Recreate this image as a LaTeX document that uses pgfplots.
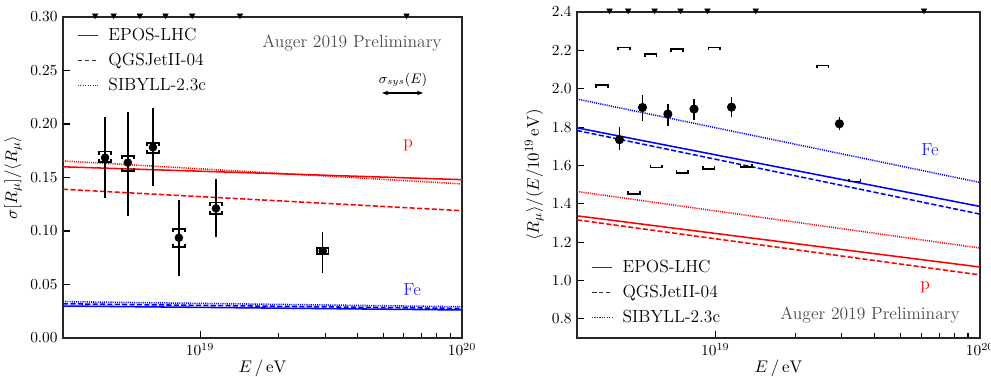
\documentclass[border=0pt]{standalone}
\usepackage{pgfplots}
\pgfplotsset{compat=1.18}
\usepackage{pgfplotstable}
\usetikzlibrary{arrows.meta}

\pgfdeclareplotmark{sysup}{%
  \pgfpathmoveto{\pgfpoint{-\pgfplotmarksize}{-0.5\pgfplotmarksize}}%
  \pgfpathlineto{\pgfpoint{-\pgfplotmarksize}{0pt}}%
  \pgfpathlineto{\pgfpoint{\pgfplotmarksize}{0pt}}%
  \pgfpathlineto{\pgfpoint{\pgfplotmarksize}{-0.5\pgfplotmarksize}}%
  \pgfusepathqstroke}
\pgfdeclareplotmark{sysdown}{%
  \pgfpathmoveto{\pgfpoint{-\pgfplotmarksize}{0.5\pgfplotmarksize}}%
  \pgfpathlineto{\pgfpoint{-\pgfplotmarksize}{0pt}}%
  \pgfpathlineto{\pgfpoint{\pgfplotmarksize}{0pt}}%
  \pgfpathlineto{\pgfpoint{\pgfplotmarksize}{0.5\pgfplotmarksize}}%
  \pgfusepathqstroke}

\newcommand{\lbl}{\fontsize{11.4}{13.5}\selectfont}

% left panel: relative fluctuations
\pgfplotstableread{
x       y      ep     em     slo    shi
4.34e18 0.1685 0.0378 0.0379 0.1642 0.1742
5.30e18 0.1639 0.0477 0.0499 0.1560 0.1701
6.61e18 0.1782 0.0365 0.0362 0.1726 0.1825
8.30e18 0.0937 0.0353 0.0357 0.0848 0.1016
1.15e19 0.1212 0.0274 0.0265 0.1159 0.1265
2.94e19 0.0813 0.0180 0.0209 0.0785 0.0838
}\sigdata

% right panel: mean muon number
\pgfplotstableread{
x       y     ep    em
4.34e18 1.734 0.064 0.052
5.30e18 1.902 0.067 0.068
6.61e18 1.868 0.054 0.061
8.30e18 1.894 0.054 0.056
1.15e19 1.904 0.053 0.049
2.94e19 1.817 0.035 0.031
}\meandata
\pgfplotstableread{
x       y
3.73e18 2.021
4.52e18 2.215
5.69e18 2.181
7.16e18 2.207
9.91e18 2.215
2.54e19 2.121
}\meansysup
\pgfplotstableread{
x       y
4.92e18 1.452
5.98e18 1.589
7.50e18 1.560
9.42e18 1.581
1.31e19 1.591
3.36e19 1.516
}\meansysdown

\pgfplotsset{
  legend image code/.code={\draw[#1] (0cm,0cm) -- (0.46cm,0cm);},
  pl/.style={line width=1pt, forget plot},
  dsh/.style={dash pattern=on 3.3pt off 1.5pt},
  dtt/.style={dash pattern=on 0.7pt off 0.7pt},
}

\begin{document}
\begin{tikzpicture}
\useasboundingbox (0,0) rectangle (644.15pt,244.4pt);

% ---------------- left panel ----------------
\begin{axis}[
  xmode=log, xmin=3e18, xmax=1e20,
  scale only axis,
  axis line style={line width=0.8pt, black!85},
  tick pos=left,
  tick align=inside,
  major tick length=4.5pt, minor tick length=3pt,
  every tick/.style={black, line width=0.7pt},
  xtick={1e19,1e20},
  xlabel={$E\,/\,\mathrm{eV}$},
  every axis x label/.style={at={(axis description cs:0.5,-0.095)}, anchor=center, font=\lbl},
  legend cell align=left,
  legend style={draw=none, fill=none, inner sep=0pt, row sep=2.6pt, font=\lbl,
    /tikz/every odd column/.append style={column sep=0.16cm}},
  at={(40.95pt,24.7pt)}, anchor=south west,
  width=259.35pt, height=208.65pt,
  ymin=0, ymax=0.30,
  ytick={0,0.05,...,0.30},
  yticklabel style={/pgf/number format/.cd, fixed, fixed zerofill, precision=2},
  ylabel={$\sigma[R_\mu]/\langle R_\mu\rangle$},
  every axis y label/.style={at={(axis description cs:-0.125,0.5)}, rotate=90, anchor=center, font=\lbl},
  legend style={at={(axis description cs:0.035,0.975)}, anchor=north west},
]
\addlegendimage{black!80, line width=0.6pt}
\addlegendentry{EPOS-LHC}
\addlegendimage{black!80, line width=0.6pt, dash pattern=on 3pt off 1.5pt}
\addlegendentry{QGSJetII-04}
\addlegendimage{black!80, line width=0.6pt, dash pattern=on 0.8pt off 0.8pt}
\addlegendentry{SIBYLL-2.3c}

% proton
\addplot[pl, red] coordinates {(3e18,0.160) (1e20,0.148)};
\addplot[pl, red, dsh] coordinates {(3e18,0.139) (1e20,0.119)};
\addplot[pl, red, dtt] coordinates {(3e18,0.1655) (1e20,0.144)};
% iron
\addplot[pl, blue] coordinates {(3e18,0.0299) (1e20,0.0262)};
\addplot[pl, blue, dsh] coordinates {(3e18,0.0320) (1e20,0.0276)};
\addplot[pl, blue, dtt] coordinates {(3e18,0.0340) (1e20,0.0292)};

% data
\addplot[forget plot, black, only marks, mark=*, mark size=2.3pt, line width=0.9pt,
  error bars/.cd, y dir=both, y explicit, error mark=none,
  error bar style={line width=0.9pt}]
  table[x=x, y=y, y error plus=ep, y error minus=em] {\sigdata};
\addplot[forget plot, black, only marks, mark=sysup, mark size=3.8pt, line width=1.1pt]
  table[x=x, y=shi] {\sigdata};
\addplot[forget plot, black, only marks, mark=sysdown, mark size=3.8pt, line width=1.1pt]
  table[x=x, y=slo] {\sigdata};

% triangles on top
\addplot[forget plot, black, only marks, mark=triangle*, mark size=2pt,
  mark options={rotate=180, yshift=-1pt}]
  coordinates {(3.98e18,0.30) (4.68e18,0.30) (5.89e18,0.30) (7.38e18,0.30) (9.33e18,0.30) (1.42e19,0.30) (6.14e19,0.30)};

\draw[black, line width=0.8pt, {Stealth[length=4pt]}-{Stealth[length=4pt]}] (axis cs:4.95e19,0.229) -- (axis cs:7.1e19,0.229);
\node[font=\small] at (axis description cs:0.852,0.804) {$\sigma_{sys}(E)$};
\node[text=black!70, font=\lbl] at (axis description cs:0.724,0.919) {Auger 2019 Preliminary};
\node[text=red, font=\lbl] at (axis description cs:0.865,0.601) {p};
\node[text=blue!85!white, font=\lbl] at (axis description cs:0.875,0.150) {Fe};
\end{axis}

% ---------------- right panel ----------------
\begin{axis}[
  xmode=log, xmin=3e18, xmax=1e20,
  scale only axis,
  axis line style={line width=0.8pt, black!85},
  tick pos=left,
  tick align=inside,
  major tick length=4.5pt, minor tick length=3pt,
  every tick/.style={black, line width=0.7pt},
  xtick={1e19,1e20},
  xlabel={$E\,/\,\mathrm{eV}$},
  every axis x label/.style={at={(axis description cs:0.5,-0.092)}, anchor=center, font=\lbl},
  legend cell align=left,
  legend style={draw=none, fill=none, inner sep=0pt, row sep=2.6pt, font=\lbl,
    /tikz/every odd column/.append style={column sep=0.16cm}},
  at={(375.05pt,24.7pt)}, anchor=south west,
  width=261.95pt, height=211.9pt,
  ymin=0.7, ymax=2.4,
  ytick={0.8,1.0,...,2.41},
  yticklabel style={/pgf/number format/.cd, fixed, fixed zerofill, precision=1},
  ylabel={$\langle R_\mu\rangle/(E/10^{19}\,\mathrm{eV})$},
  every axis y label/.style={at={(axis description cs:-0.106,0.5)}, rotate=90, anchor=center, font=\lbl},
  legend style={at={(axis description cs:0.035,0.03)}, anchor=south west},
]
\addlegendimage{black!80, line width=0.6pt}
\addlegendentry{EPOS-LHC}
\addlegendimage{black!80, line width=0.6pt, dash pattern=on 3pt off 1.5pt}
\addlegendentry{QGSJetII-04}
\addlegendimage{black!80, line width=0.6pt, dash pattern=on 0.8pt off 0.8pt}
\addlegendentry{SIBYLL-2.3c}

% iron
\addplot[pl, blue] coordinates {(3e18,1.796) (1e20,1.386)};
\addplot[pl, blue, dsh] coordinates {(3e18,1.782) (1e20,1.346)};
\addplot[pl, blue, dtt] coordinates {(3e18,1.946) (1e20,1.511)};
% proton
\addplot[pl, red] coordinates {(3e18,1.337) (1e20,1.070)};
\addplot[pl, red, dsh] coordinates {(3e18,1.316) (1e20,1.029)};
\addplot[pl, red, dtt] coordinates {(3e18,1.464) (1e20,1.169)};

% data
\addplot[forget plot, black, only marks, mark=*, mark size=2.5pt, line width=0.9pt,
  error bars/.cd, y dir=both, y explicit, error mark=none,
  error bar style={line width=0.9pt}]
  table[x=x, y=y, y error plus=ep, y error minus=em] {\meandata};
\addplot[forget plot, black, only marks, mark=sysup, mark size=3.8pt, line width=1.1pt]
  table[x=x, y=y] {\meansysup};
\addplot[forget plot, black, only marks, mark=sysdown, mark size=3.8pt, line width=1.1pt]
  table[x=x, y=y] {\meansysdown};

% triangles on top
\addplot[forget plot, black, only marks, mark=triangle*, mark size=2pt,
  mark options={rotate=180, yshift=-1pt}]
  coordinates {(3.98e18,2.4) (4.68e18,2.4) (5.89e18,2.4) (7.38e18,2.4) (9.33e18,2.4) (1.42e19,2.4) (6.14e19,2.4)};

\node[text=blue!85!white, font=\lbl] at (axis description cs:0.876,0.577) {Fe};
\node[text=red, font=\lbl] at (axis description cs:0.864,0.156) {p};
\node[text=black!70, font=\lbl] at (axis description cs:0.727,0.071) {Auger 2019 Preliminary};
\end{axis}
\end{tikzpicture}
\end{document}
